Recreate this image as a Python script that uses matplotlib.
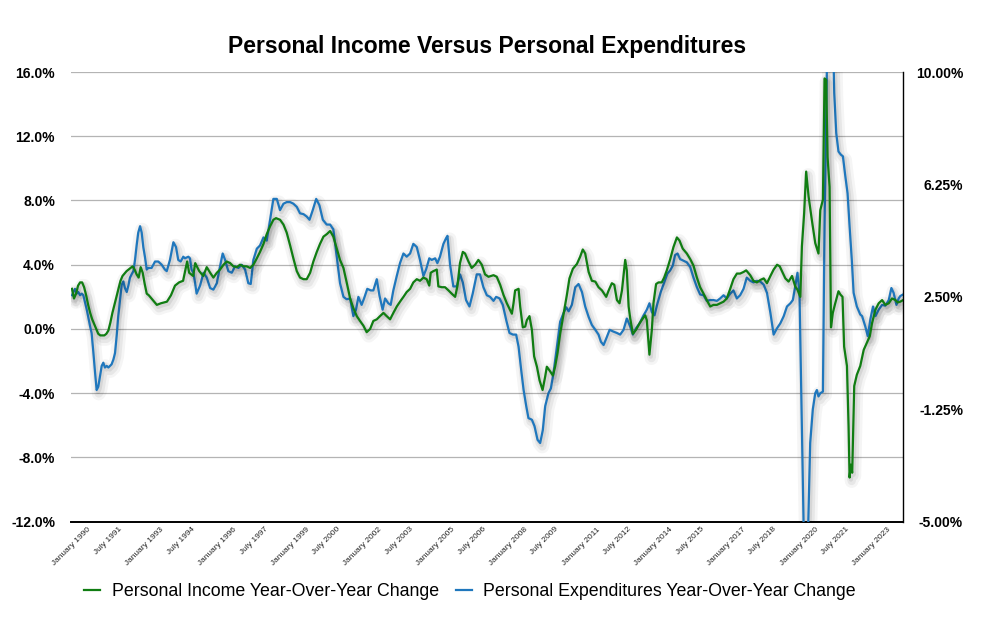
import matplotlib
matplotlib.use("Agg")
import matplotlib.pyplot as plt
import matplotlib.patheffects as pe
from matplotlib.lines import Line2D
from matplotlib.ticker import FixedLocator

plt.rcParams['font.family'] = ['Liberation Sans', 'DejaVu Sans']

# months since January 1990 and year-over-year % change
income_months = [0, 1, 2, 3, 4, 5, 6, 7, 8, 9, 10, 11, 12, 13, 14, 16, 17, 18, 19, 20, 21, 22, 23, 24, 25, 27, 29, 30,
                 31, 32, 33, 34, 35, 36, 37, 38, 40, 42, 44, 47, 49, 51, 53, 55, 57, 58, 60, 61, 63, 65, 66.7, 68.4,
                 70, 71.7, 73.3, 75, 76.6, 78.3, 79.9, 81.6, 83.2, 84.9, 86.5, 88.2, 89.8, 91.5, 93.1, 94.8, 96.4,
                 98.1, 99.7, 101, 103, 104.7, 106.3, 108, 109.6, 111.3, 112.9, 114.6, 116.2, 117.9, 119.5, 121.2,
                 122.8, 124.5, 126.1, 127.8, 129.4, 131.1, 132.7, 134.4, 136, 137.7, 139.3, 141, 142.6, 144.3, 145.9,
                 147.6, 149.2, 150.9, 152.5, 154.2, 155.8, 157.5, 159.1, 160.8, 162.4, 164.1, 165.7, 167.4, 169,
                 170.7, 172.3, 174, 175.6, 176.9, 177.6, 178.9, 180.6, 181.4, 183.1, 184.7, 186.4, 188, 189.7, 190.8,
                 192.1, 193.5, 194.6, 196.3, 197.9, 199.6, 201.2, 202.9, 204.5, 206.2, 208.7, 210.3, 212, 213.7,
                 215.3, 217.8, 218.6, 219.4, 221.1, 221.9, 223.2, 224.4, 225.2, 226.5, 227.7, 228.8, 230.2, 231.5,
                 233, 234.3, 235.1, 236.8, 238.1, 239.2, 240.4, 241.7, 243.4, 245, 246.3, 248, 250, 251.6, 252.9,
                 254.1, 255.8, 257.4, 259.1, 260.7, 262.4, 264.5, 265.7, 267.3, 268.5, 269.8, 271.1, 272.3, 273.9,
                 274.7, 275.6, 276.4, 277.7, 279.3, 281, 282.6, 283.8, 284.6, 285.9, 287.1, 287.9, 289.2, 290.4, 292,
                 293.2, 294.5, 296.2, 297.8, 299.5, 300.8, 302.4, 304.4, 306.1, 307.7, 309.4, 311, 312.7, 314.3, 316,
                 317.6, 319.3, 320.9, 322.6, 324.2, 325.9, 327.5, 329.2, 330.8, 332.5, 333.8, 335.8, 337.4, 339.1,
                 340.8, 342.5, 344.1, 345.8, 347.4, 349.1, 350.4, 351.5, 353.2, 354.8, 356.5, 358.1, 359.2, 360.6,
                 361.4, 362.5, 363.5, 364.7, 366.3, 368, 369.6, 370.5, 371.8, 372.6, 373.4, 374.1, 375.1, 375.8,
                 376.7, 377.9, 379.5, 380.4, 381.5, 382.3, 383.7, 384.5, 385, 385.6, 386.3, 387.3, 388.6, 390.3, 392,
                 393.6, 395, 396.1, 397.8, 399.4, 401.1, 402.7, 404.4, 406, 407.7, 408.8, 410.1, 411.5]
income_values = [2.5, 1.9, 2.2, 2.7, 2.9, 2.9, 2.6, 2.1, 1.5, 1.0, 0.6, 0.3, 0.0, -0.3, -0.4, -0.4, -0.3, -0.1, 0.4,
                 1.0, 1.5, 2.0, 2.5, 3.0, 3.3, 3.6, 3.8, 3.9, 3.7, 3.4, 3.2, 3.85, 3.5, 2.8, 2.2, 2.1, 1.8, 1.5, 1.6,
                 1.7, 2.1, 2.7, 2.9, 3.0, 4.2, 3.5, 3.3, 4.1, 3.6, 3.3, 3.85, 3.5, 3.2, 3.5, 3.7, 4.0, 4.2, 4.1, 3.9,
                 3.85, 4.0, 3.9, 3.9, 3.8, 4.0, 4.4, 4.8, 5.3, 5.9, 6.4, 6.8, 6.9, 6.8, 6.5, 6.0, 5.2, 4.4, 3.6, 3.2,
                 3.1, 3.1, 3.5, 4.2, 4.8, 5.3, 5.75, 5.9, 6.1, 5.75, 5.0, 4.3, 3.8, 2.9, 1.9, 1.3, 0.8, 0.5, 0.2,
                 -0.2, 0.0, 0.5, 0.6, 0.8, 1.0, 0.8, 0.6, 1.0, 1.4, 1.7, 2.0, 2.3, 2.5, 2.9, 3.1, 3.0, 3.2, 3.1, 2.7,
                 3.5, 3.6, 3.7, 2.65, 2.6, 2.6, 2.4, 2.2, 2.0, 2.65, 4.1, 4.8, 4.7, 4.2, 3.8, 4.0, 4.3, 4.0, 3.4,
                 3.25, 3.35, 3.25, 2.75, 2.1, 1.6, 0.95, 1.6, 2.4, 2.5, 1.4, 0.1, 0.15, 0.55, 0.8, -0.05, -1.7, -2.35,
                 -3.2, -3.8, -2.95, -2.35, -2.65, -2.9, -2.35, -1.5, -0.3, 0.95, 2.1, 3.15, 3.75, 4.05, 4.5, 4.95,
                 4.7, 3.55, 3.0, 2.95, 2.6, 2.4, 2.0, 2.4, 2.85, 2.75, 1.8, 1.6, 2.4, 4.3, 3.65, 1.4, 0.65, -0.3,
                 -0.05, 0.35, 0.65, 0.85, 0.55, -1.6, -0.05, 1.6, 2.8, 2.9, 2.9, 3.2, 3.65, 4.35, 5.1, 5.7, 5.5, 5.0,
                 4.7, 4.35, 3.95, 3.2, 2.6, 2.2, 1.8, 1.4, 1.5, 1.5, 1.6, 1.7, 1.9, 2.5, 3.1, 3.45, 3.45, 3.55, 3.65,
                 3.35, 3.0, 2.9, 3.05, 3.15, 2.85, 3.3, 3.7, 4.0, 3.9, 3.6, 3.15, 2.95, 3.3, 2.65, 2.45, 2.0, 5.15,
                 7.2, 9.8, 8.25, 6.8, 5.35, 4.7, 7.4, 8.05, 15.6, 15.5, 10.7, 8.85, 0.1, 1.0, 1.6, 2.35, 2.15, 2.0,
                 -1.1, -2.3, -6.05, -9.25, -8.45, -8.95, -3.55, -2.85, -2.3, -1.3, -0.85, -0.45, 0.35, 1.2, 1.6, 1.8,
                 1.5, 1.6, 1.9, 1.8, 1.65, 1.7, 1.8]

expend_months = [0, 0.7, 1.5, 2.3, 3.1, 4, 4.8, 5.6, 7.3, 8.9, 9.7, 10.6, 11.4, 12.2, 13, 13.9, 14.7, 15.5, 16.3,
                 17.2, 18, 18.8, 19.6, 20.5, 21.3, 22.1, 22.9, 23.8, 24.6, 25.4, 26.2, 27.1, 27.9, 28.7, 29.5, 30.4,
                 31.2, 32, 32.8, 33.7, 34.5, 35.3, 36.1, 37, 37.8, 39.4, 41.1, 42.7, 44.4, 46, 46.9, 48.5, 50.2,
                 51.5, 52.6, 53.8, 55.1, 55.9, 57.6, 58.4, 59.2, 60.1, 60.9, 61.7, 63.4, 65.1, 66.7, 68.4, 70, 71.7,
                 73.3, 74.6, 75.8, 77.4, 79.1, 80.7, 82.4, 84, 85.7, 87.3, 88.5, 89.8, 91.5, 93.1, 94.8, 96.4, 97.7,
                 99.7, 101.4, 103, 104.7, 106.3, 108, 109.6, 111.3, 112.9, 114.6, 116.2, 117.6, 119.2, 120.9, 122.5,
                 124.2, 126.1, 127.8, 129.4, 131.1, 132.7, 134.4, 136, 137.7, 139.3, 140.6, 141.8, 143.4, 144.6,
                 146.2, 147.9, 149.2, 150.9, 152.2, 153.8, 155, 156.6, 157.8, 159.1, 160.8, 162.4, 164.1, 165.7,
                 167.4, 169, 170.7, 172.3, 174, 175.3, 176.9, 178.1, 179.8, 180.9, 182.2, 183.9, 185.2, 185.9, 187.2,
                 188.8, 190.5, 192.1, 193.5, 195.1, 196.8, 198.4, 200.4, 202, 203.7, 205.4, 207, 208.7, 210, 211.7,
                 213.3, 215, 216.6, 218.3, 219.9, 221.1, 222.4, 223.6, 224.9, 226, 227.7, 229, 230.5, 231.8, 233.1,
                 234.3, 235.9, 237.1, 238.4, 240.1, 241.7, 243.4, 244.7, 245.9, 247.5, 249.2, 250.8, 252.5, 254.1,
                 255.8, 257.4, 259.1, 260.7, 261.9, 263.2, 264.5, 266.2, 267.8, 269.8, 271.4, 273.1, 274.7, 276.4,
                 277.7, 279.3, 281, 283, 284.6, 285.9, 287.1, 288.4, 289.9, 291.5, 293.2, 294.8, 296.2, 297.5, 298.6,
                 299.8, 301.1, 302.8, 304.4, 306.1, 307.7, 309.4, 311, 312.7, 314.3, 316, 317.6, 319.3, 320.9, 322.6,
                 324.2, 325.9, 327.5, 329.2, 330.8, 332.5, 334.1, 335.8, 337.4, 339.1, 340.8, 342.5, 344.1, 345.8,
                 347.4, 349.1, 350.7, 352.4, 354, 355.7, 356.9, 358.1, 359.2, 360.2, 363.2, 365.5, 366.8, 368,
                 368.8, 369.6, 370.5, 371.8, 372.6, 375.2, 377.4, 378.4, 379.5, 380.7, 381.7, 382.8, 384, 385, 386.1,
                 387, 388.6, 390.3, 391.2, 392.8, 394, 395.3, 396.6, 397.8, 399.4, 401.1, 402.7, 404.4, 405.7,
                 406.8, 408.2, 409.3, 410.1, 411.5]
expend_values = [2.1, 2.3, 2.5, 2.2, 2.3, 2.1, 2.2, 2.1, 1.2, 0.2, -0.25, -1.5, -2.7, -3.8, -3.6, -2.9, -2.3, -2.1,
                 -2.4, -2.3, -2.4, -2.3, -2.2, -1.9, -1.5, -0.45, 0.8, 1.8, 2.75, 2.96, 2.55, 2.3, 2.7, 3.2, 3.4, 3.6,
                 4.3, 5.2, 6.0, 6.4, 6.0, 5.1, 4.5, 3.7, 3.8, 3.8, 4.2, 4.2, 4.0, 3.7, 3.6, 4.3, 5.4, 5.1, 4.3, 4.2,
                 4.5, 4.4, 4.5, 4.4, 3.7, 3.5, 2.9, 2.2, 2.7, 3.5, 3.2, 2.55, 2.45, 2.85, 3.9, 4.7, 4.3, 3.6, 3.5,
                 3.9, 3.8, 4.0, 3.7, 2.85, 2.8, 4.3, 5.0, 5.2, 5.7, 5.5, 6.5, 8.1, 8.1, 7.4, 7.8, 7.9, 7.9, 7.8, 7.6,
                 7.2, 7.15, 7.0, 6.8, 7.4, 8.1, 7.7, 6.8, 6.5, 6.5, 6.2, 4.5, 2.85, 2.0, 1.85, 1.9, 0.8, 1.2, 2.0,
                 1.5, 1.9, 2.5, 2.4, 2.4, 3.1, 2.1, 1.2, 1.9, 1.6, 1.5, 2.4, 3.3, 4.1, 4.7, 4.5, 4.7, 5.3, 5.1, 4.3,
                 3.3, 3.7, 4.4, 4.3, 4.4, 4.1, 4.5, 5.3, 5.65, 5.8, 4.0, 2.65, 2.65, 3.4, 2.9, 1.8, 1.4, 2.2, 3.4, 3.4,
                 2.6, 2.1, 2.0, 1.75, 2.0, 1.9, 1.5, 0.55, -0.25, -0.35, -0.35, -1.1, -2.55, -3.8, -4.8, -5.55, -5.65,
                 -6.05, -6.9, -7.1, -6.3, -4.8, -4.0, -3.7, -2.75, -1.1, 0.45, 1.0, 1.35, 1.1, 1.5, 2.6, 2.8, 2.3,
                 1.4, 0.75, 0.25, -0.05, -0.35, -0.8, -1.0, -0.6, -0.05, -0.15, -0.25, -0.35, -0.05, 0.65, 0.15,
                 -0.35, 0.05, 0.35, 0.85, 1.2, 1.6, 1.05, 0.85, 1.6, 2.3, 2.9, 3.45, 3.65, 3.95, 4.6, 4.7, 4.35, 4.25,
                 4.15, 3.85, 3.2, 2.6, 2.15, 2.1, 1.75, 1.8, 1.8, 1.75, 1.9, 2.1, 1.9, 2.2, 2.4, 1.9, 2.1, 2.5, 3.2,
                 3.0, 2.9, 3.0, 2.95, 2.75, 2.25, 1.0, -0.35, 0.05, 0.35, 0.8, 1.4, 1.6, 1.8, 2.65, 3.5, 2.25,
                 -19.0, -7.1, -5.0, -4.0, -3.8, -4.2, -4.0, -3.9, 6.4, 28.0, 14.7, 12.2, 11.05, 10.85, 10.75, 9.6,
                 8.45, 6.4, 4.3, 2.25, 1.4, 0.9, 0.8, 0.15, -0.45, 0.6, 1.4, 0.8, 1.2, 1.5, 1.45, 1.8, 2.55, 2.25,
                 1.5, 1.9, 2.05, 2.15]

tick_months = [0, 18, 36, 54, 72, 90, 108, 126, 144, 162, 180, 198, 216, 234, 252, 270, 288, 306, 324, 342,
               360, 378, 396]
tick_labels = ['January 1990', 'July 1991', 'January 1993', 'July 1994', 'January 1996', 'July 1997',
               'January 1999', 'July 2000', 'January 2002', 'July 2003', 'January 2005', 'July 2006',
               'January 2008', 'July 2009', 'January 2011', 'July 2012', 'January 2014', 'July 2015',
               'January 2017', 'July 2018', 'January 2020', 'July 2021', 'January 2023']
left_ticks = [-12, -8, -4, 0, 4, 8, 12, 16]
right_ticks = [-5, -1.25, 2.5, 6.25, 10]

title = 'Personal Income Versus Personal Expenditures'
income_label = 'Personal Income Year-Over-Year Change'
expend_label = 'Personal Expenditures Year-Over-Year Change'

GREEN = '#107d12'
BLUE = '#1f77bd'

W, H = 992, 624
fig = plt.figure(figsize=(W / 100, H / 100), dpi=100)
ax_l, ax_r, ax_t, ax_b = 71, 903.3, 72, 521.7
ax = fig.add_axes([ax_l / W, 1 - ax_b / H, (ax_r - ax_l) / W, (ax_b - ax_t) / H])

shadow = [pe.SimpleLineShadow(offset=(1.5, -2.5), shadow_color='black', alpha=0.04, linewidth=10),
          pe.SimpleLineShadow(offset=(1.5, -2.5), shadow_color='black', alpha=0.055, linewidth=6),
          pe.SimpleLineShadow(offset=(1.0, -1.5), shadow_color='black', alpha=0.07, linewidth=3),
          pe.Normal()]

ax.plot(expend_months, expend_values, color=BLUE, lw=1.6, zorder=3,
        path_effects=shadow, solid_joinstyle='round')
ax.plot(income_months, income_values, color=GREEN, lw=1.6, zorder=4,
        path_effects=shadow, solid_joinstyle='round')

ax.set_xlim(-0.5, 411.6)
ax.set_ylim(-12, 16)
ax.yaxis.set_major_locator(FixedLocator(left_ticks))
ax.set_yticklabels([f'{v:.1f}%' for v in left_ticks])
ax.grid(axis='y', color='#b4b4b4', lw=0.9)
ax.set_axisbelow(True)
ax.tick_params(axis='y', length=0, pad=11.5, labelsize=10)
for t in ax.get_yticklabels():
    t.set_fontweight('bold')

ax.set_xticks(tick_months)
ax.set_xticklabels(tick_labels, rotation=45, ha='center', fontsize=6, color='#222222')
ax.tick_params(axis='x', length=0, pad=3)

for s in ['left', 'top', 'right']:
    ax.spines[s].set_visible(False)
ax.spines['bottom'].set_color('black')
ax.spines['bottom'].set_linewidth(1.4)

ax2 = ax.twinx()
ax2.set_ylim(-5, 10)
ax2.yaxis.set_major_locator(FixedLocator(right_ticks))
ax2.set_yticklabels([f'{v:.2f}%' for v in right_ticks])
ax2.tick_params(axis='y', length=0, pad=43, labelsize=10)
for t in ax2.get_yticklabels():
    t.set_fontweight('bold')
    t.set_horizontalalignment('right')
for s in ['left', 'top', 'bottom']:
    ax2.spines[s].set_visible(False)
ax2.spines['right'].set_color('black')
ax2.spines['right'].set_linewidth(1.0)

ax.set_title(title, fontsize=16.5, fontweight='bold', pad=14)

handles = [Line2D([], [], color=GREEN, lw=1.6), Line2D([], [], color=BLUE, lw=1.6)]
fig.legend(handles, [income_label, expend_label], loc='center',
           bbox_to_anchor=(470 / W, 1 - 592 / H), ncol=2, frameon=False, fontsize=12.8,
           handlelength=0.9, handletextpad=0.65, columnspacing=0.95)

fig.savefig('out.png', dpi=100)
